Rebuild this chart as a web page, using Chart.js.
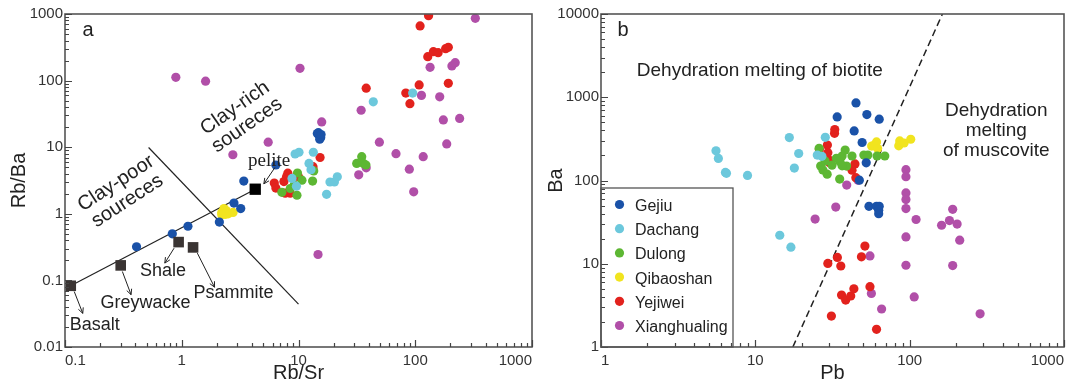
<!DOCTYPE html>
<html lang="en">
<head>
<meta charset="UTF-8">
<title>Rb/Sr – Rb/Ba and Pb – Ba</title>
<script src="https://cdn.jsdelivr.net/npm/chart.js"></script>
<style>
  body { margin: 0; background: #fff; }
  .wrap { position: relative; width: 1069px; height: 382px; overflow: hidden; }
  .panel { position: absolute; top: 0; }
  #panelA { left: 0; }
  #panelB { left: 540px; }
</style>
</head>
<body>
<div class="wrap">
  <div class="panel" id="panelA"><canvas id="chartA" width="540" height="382"></canvas></div>
  <div class="panel" id="panelB"><canvas id="chartB" width="529" height="382"></canvas></div>
</div>

<script>
const groups = ['Gejiu', 'Dachang', 'Dulong', 'Qibaoshan', 'Yejiwei', 'Xianghualing'];
const groupColors = ['#1a52a8', '#6cc8dc', '#5db733', '#f1e41f', '#e2221d', '#b14fa8'];

// panel a: [Rb/Sr, Rb/Ba]
const gejiuA = [[0.41, 0.32], [0.83, 0.5], [1.13, 0.65], [2.1, 0.75], [2.8, 1.45], [3.2, 1.2], [3.4, 3.1],
  [6.4, 5.4], [14.5, 16], [15, 15], [15.5, 14], [15.2, 13.2], [14.8, 16.5], [15.6, 15.5]];
const dachangA = [[43.7, 48], [95, 65], [10.1, 8.4], [9.35, 7.9], [13.4, 8.4], [12.3, 5.7], [12.8, 4.6],
  [18.6, 3.0], [20.3, 3.0], [21.5, 3.6], [17.4, 1.96], [8.8, 3.4], [9.6, 2.6]];
const dulongA = [[9.8, 4.1], [10.7, 3.2], [9.2, 2.7], [9.7, 1.9], [7.2, 2.1], [8.5, 2.4], [13.2, 3.1],
  [13.5, 4.4], [34.8, 7.2], [31.5, 5.7], [36, 5.7], [37.8, 5.4]];
const qibaoshanA = [[2.2, 1.05], [2.3, 1.2], [2.4, 1.12], [2.5, 1.0], [2.75, 1.05], [2.35, 0.98], [2.2, 0.97]];
const yejiweiA = [[130, 944], [110, 661], [128, 229], [143, 272], [157, 263], [182, 302], [192, 316],
  [192, 91], [108, 86], [83, 65], [90, 45], [38, 77], [15.3, 7.0], [13.3, 5.1], [13.3, 4.7], [8.1, 4.07],
  [7.9, 3.6], [7.5, 3.05], [10, 3.6], [6.2, 2.9], [6.4, 2.43], [7.7, 2.04], [8.5, 2.04]];
const xianghualingA = [[0.89, 112], [1.6, 98], [10.3, 153], [2.74, 7.7], [5.5, 11.9], [15.8, 24], [14.7, 0.245],
  [34.4, 35.9], [32.8, 3.85], [38, 4.9], [49.3, 11.9], [68.4, 8.0], [89, 4.68], [97, 2.14], [113, 60],
  [117, 7.2], [134, 158], [162, 57], [174, 25.7], [186, 11.2], [206, 166], [220, 186], [240, 27], [327, 861]];

// reference rocks and lines, panel a
const refNames = ['Basalt', 'Greywacke', 'Shale', 'Psammite', 'pelite'];
const refRbSr = [0.112, 0.30, 0.94, 1.25, 4.26];
const refRbBa = [0.083, 0.168, 0.376, 0.313, 2.34];
const clayLineRbSr = [0.52, 10];
const clayLineRbBa = [9.9, 0.044];

// panel b: [Pb, Ba]
const gejiuB = [[44.9, 855], [33.9, 581], [52.8, 620], [63.5, 545], [43.7, 394], [49.2, 286], [52.3, 163],
  [47.2, 101], [54.5, 49], [61, 49], [63.5, 49], [63, 44], [63, 40]];
const dachangB = [[5.56, 227], [5.76, 184], [6.4, 125], [6.5, 122], [8.9, 115], [16.6, 328], [19.1, 211],
  [17.9, 141], [28.4, 330], [25.2, 202], [27, 195], [14.4, 22], [17, 15.8]];
const dulongB = [[25.9, 244], [26.5, 149], [27.4, 134], [29.2, 119], [35.2, 104], [28.3, 171], [35.4, 168],
  [36.5, 197], [38.2, 232], [39, 149], [42.3, 197], [50.5, 202], [53.6, 202], [61.5, 197], [69, 197],
  [33.5, 185], [31.4, 153], [36.5, 150]];
const qibaoshanB = [[56.7, 259], [58.8, 265], [61, 291], [62, 242], [86.2, 299], [85, 261], [92, 282], [101.6, 313]];
const yejiweiB = [[32.7, 409], [32.6, 369], [29.3, 267], [26, 235], [29.5, 216], [29.9, 177], [30.3, 163],
  [44.2, 158], [42.3, 133], [44.8, 108], [29.5, 10.1], [34, 11.9], [35.8, 9.4], [51.3, 16.3], [48.7, 12.1],
  [55.3, 5.3], [36.2, 4.2], [38.5, 3.66], [41.5, 4.1], [43.5, 5.0], [31.1, 2.35], [61, 1.63]];
const xianghualingB = [[39.1, 88], [46.3, 101], [33.2, 48], [24.4, 34.4], [55.3, 12.4], [56.5, 4.4], [65.8, 2.86],
  [94.6, 135], [94.6, 111], [94.6, 71], [94.6, 59], [94.6, 46], [94.6, 21], [94.6, 9.6], [110, 34], [107, 4.0],
  [161, 29], [181, 33], [190, 45], [203, 30], [211, 19.2], [190, 9.5], [286, 2.5]];
const meltLinePb = [17.5, 163];
const meltLineBa = [1, 10000];

const FONT = "'Liberation Sans', Arial, sans-serif";
Chart.defaults.font.family = FONT;
Chart.defaults.color = '#333';

// one tick per 1..9 x 10^n
function decadeTicks(scale) {
  const ticks = [];
  const e0 = Math.round(Math.log10(scale.min)), e1 = Math.round(Math.log10(scale.max));
  for (let e = e0; e < e1; e++) {
    for (let s = 1; s < 10; s++) ticks.push({ value: +(s * Math.pow(10, e)).toPrecision(3) });
  }
  ticks.push({ value: scale.max });
  scale.ticks = ticks;
}
function isDecade(v) {
  const l = Math.log10(v);
  return Math.abs(l - Math.round(l)) < 1e-6;
}
function decadeLabel(v) {
  return isDecade(v) ? String(+v.toPrecision(3)) : '';
}

function logAxis(min, max, title, isX, size, titlePad) {
  return {
    type: 'logarithmic', min, max,
    afterBuildTicks: decadeTicks,
    afterFit: s => { if (isX) s.height = size; else s.width = size; },
    grid: { display: false, drawTicks: false },
    border: { display: false },
    ticks: { autoSkip: false, maxRotation: 0, minRotation: 0, padding: isX ? 5 : 2,
      align: isX ? 'inner' : 'center', font: { size: 15 }, color: '#333', callback: decadeLabel },
    title: { display: true, text: title, color: '#222', font: { size: 20 }, padding: titlePad }
  };
}

function groupSets(series) {
  return groups.map((name, i) => ({
    label: name,
    data: series[i].map(p => ({ x: p[0], y: p[1] })),
    backgroundColor: groupColors[i],
    pointRadius: 4.6, pointBorderWidth: 0, order: i
  }));
}

function lineSet(xs, ys, dash) {
  return {
    data: xs.map((x, i) => ({ x, y: ys[i] })),
    showLine: true, pointRadius: 0, borderColor: '#222', borderWidth: dash ? 1.5 : 1.2,
    borderDash: dash || [], order: 20
  };
}

// frame and inward tick marks
function drawFrame(chart) {
  const { ctx, chartArea: a } = chart;
  const xs = chart.scales.x, ys = chart.scales.y;
  ctx.save();
  ctx.strokeStyle = '#555';
  ctx.lineWidth = 1.6;
  ctx.strokeRect(a.left, a.top, a.right - a.left, a.bottom - a.top);
  ctx.strokeStyle = '#444';
  ctx.lineWidth = 1.2;
  ctx.beginPath();
  xs.ticks.forEach(t => {
    const p = Math.round(xs.getPixelForValue(t.value)) + 0.5;
    ctx.moveTo(p, a.bottom); ctx.lineTo(p, a.bottom - (isDecade(t.value) ? 7 : 4));
  });
  ys.ticks.forEach(t => {
    const p = Math.round(ys.getPixelForValue(t.value)) + 0.5;
    ctx.moveTo(a.left, p); ctx.lineTo(a.left + (isDecade(t.value) ? 7 : 4), p);
  });
  ctx.stroke();
  ctx.restore();
}

function label(ctx, str, x, y, size, opts = {}) {
  ctx.save();
  ctx.translate(x, y);
  if (opts.angle) ctx.rotate(opts.angle * Math.PI / 180);
  ctx.font = size + 'px ' + (opts.family || FONT);
  ctx.fillStyle = '#222';
  ctx.textAlign = opts.align || 'center';
  ctx.textBaseline = 'middle';
  const lines = Array.isArray(str) ? str : [str];
  const gap = opts.gap || size * 1.1;
  lines.forEach((s, i) => ctx.fillText(s, 0, (i - (lines.length - 1) / 2) * gap));
  ctx.restore();
}

function arrow(ctx, x1, y1, x2, y2) {
  const ang = Math.atan2(y2 - y1, x2 - x1), h = 6;
  ctx.beginPath();
  ctx.moveTo(x1, y1); ctx.lineTo(x2, y2);
  ctx.moveTo(x2 - h * Math.cos(ang - 0.45), y2 - h * Math.sin(ang - 0.45));
  ctx.lineTo(x2, y2);
  ctx.lineTo(x2 - h * Math.cos(ang + 0.45), y2 - h * Math.sin(ang + 0.45));
  ctx.stroke();
}

const notesA = {
  id: 'notesA',
  afterDraw(chart) {
    drawFrame(chart);
    const { ctx, chartArea: a } = chart;
    const X = v => chart.scales.x.getPixelForValue(v), Y = v => chart.scales.y.getPixelForValue(v);
    label(ctx, 'a', a.left + 23, a.top + 16, 20);
    label(ctx, ['Clay-poor', 'soureces'], X(0.306), Y(2.11), 20, { angle: -33, gap: 21 });
    label(ctx, ['Clay-rich', 'soureces'], X(3.22), Y(28.7), 20, { angle: -35, gap: 21 });
    label(ctx, refNames[0], X(0.18), Y(0.0216), 18);
    label(ctx, refNames[1], X(0.49), Y(0.0457), 18);
    label(ctx, refNames[2], X(0.69), Y(0.14), 18);
    label(ctx, refNames[3], X(2.77), Y(0.0646), 18);
    label(ctx, refNames[4], X(5.6), Y(6.3), 19, { family: "'Liberation Serif', serif" });
    ctx.save();
    ctx.strokeStyle = '#222';
    ctx.lineWidth = 1;
    [[0.12, 0.068, 0.142, 0.032], [0.31, 0.136, 0.368, 0.061], [0.86, 0.305, 0.716, 0.182],
     [1.36, 0.257, 1.91, 0.079], [6.28, 4.95, 5.05, 2.82]]
      .forEach(p => arrow(ctx, X(p[0]), Y(p[1]), X(p[2]), Y(p[3])));
    ctx.restore();
  }
};

const notesB = {
  id: 'notesB',
  afterDraw(chart) {
    drawFrame(chart);
    const { ctx, chartArea: a } = chart;
    const X = v => chart.scales.x.getPixelForValue(v), Y = v => chart.scales.y.getPixelForValue(v);
    label(ctx, 'b', a.left + 22, a.top + 16, 20);
    label(ctx, 'Dehydration melting of biotite', X(10.7), Y(2084), 19);
    label(ctx, ['Dehydration', 'melting', 'of muscovite'], X(364), Y(396), 19, { gap: 20 });

    // legend box in the lower left corner
    const top = a.bottom - 159, right = a.left + 132;
    ctx.save();
    ctx.strokeStyle = '#555';
    ctx.lineWidth = 1.3;
    ctx.strokeRect(a.left, top, right - a.left, a.bottom - top);
    ctx.restore();
    chart.data.datasets.filter(d => groups.includes(d.label)).forEach((d, i) => {
      const y = top + 17.5 + i * 24.2;
      ctx.save();
      ctx.fillStyle = d.backgroundColor;
      ctx.beginPath();
      ctx.arc(a.left + 18.5, y - 1, 4.6, 0, Math.PI * 2);
      ctx.fill();
      ctx.restore();
      label(ctx, d.label, a.left + 34, y + 1, 16, { align: 'left' });
    });
  }
};

new Chart(document.getElementById('chartA'), {
  type: 'scatter',
  data: {
    datasets: [
      ...groupSets([gejiuA, dachangA, dulongA, qibaoshanA, yejiweiA, xianghualingA]),
      {
        label: 'reference',
        data: refRbSr.map((x, i) => ({ x, y: refRbBa[i] })),
        pointStyle: 'rect', pointRadius: [7.5, 7.5, 7.5, 7.5, 8],
        backgroundColor: ['#3a3433', '#3a3433', '#3a3433', '#3a3433', '#000'],
        pointBorderWidth: 0, order: -1
      },
      lineSet([refRbSr[0], refRbSr[4]], [refRbBa[0], refRbBa[4]]),
      lineSet(clayLineRbSr, clayLineRbBa)
    ]
  },
  options: {
    responsive: false, animation: false, events: [],
    layout: { padding: { top: 14, right: 8, left: 0, bottom: 0 } },
    plugins: { legend: { display: false }, tooltip: { enabled: false } },
    scales: {
      x: logAxis(0.1, 1000, 'Rb/Sr', true, 35, { top: 0, bottom: -3 }),
      y: logAxis(0.01, 1000, 'Rb/Ba', false, 65, { top: 7, bottom: 0 })
    }
  },
  plugins: [notesA]
});

new Chart(document.getElementById('chartB'), {
  type: 'scatter',
  data: {
    datasets: [
      ...groupSets([gejiuB, dachangB, dulongB, qibaoshanB, yejiweiB, xianghualingB]),
      lineSet(meltLinePb, meltLineBa, [7, 4])
    ]
  },
  options: {
    responsive: false, animation: false, events: [],
    layout: { padding: { top: 14, right: 2, left: 0, bottom: 0 } },
    plugins: { legend: { display: false }, tooltip: { enabled: false } },
    scales: {
      x: logAxis(1, 1000, 'Pb', true, 35, { top: 0, bottom: -3 }),
      y: logAxis(1, 10000, 'Ba', false, 61, { top: 4, bottom: 0 })
    }
  },
  plugins: [notesB]
});
</script>
</body>
</html>
